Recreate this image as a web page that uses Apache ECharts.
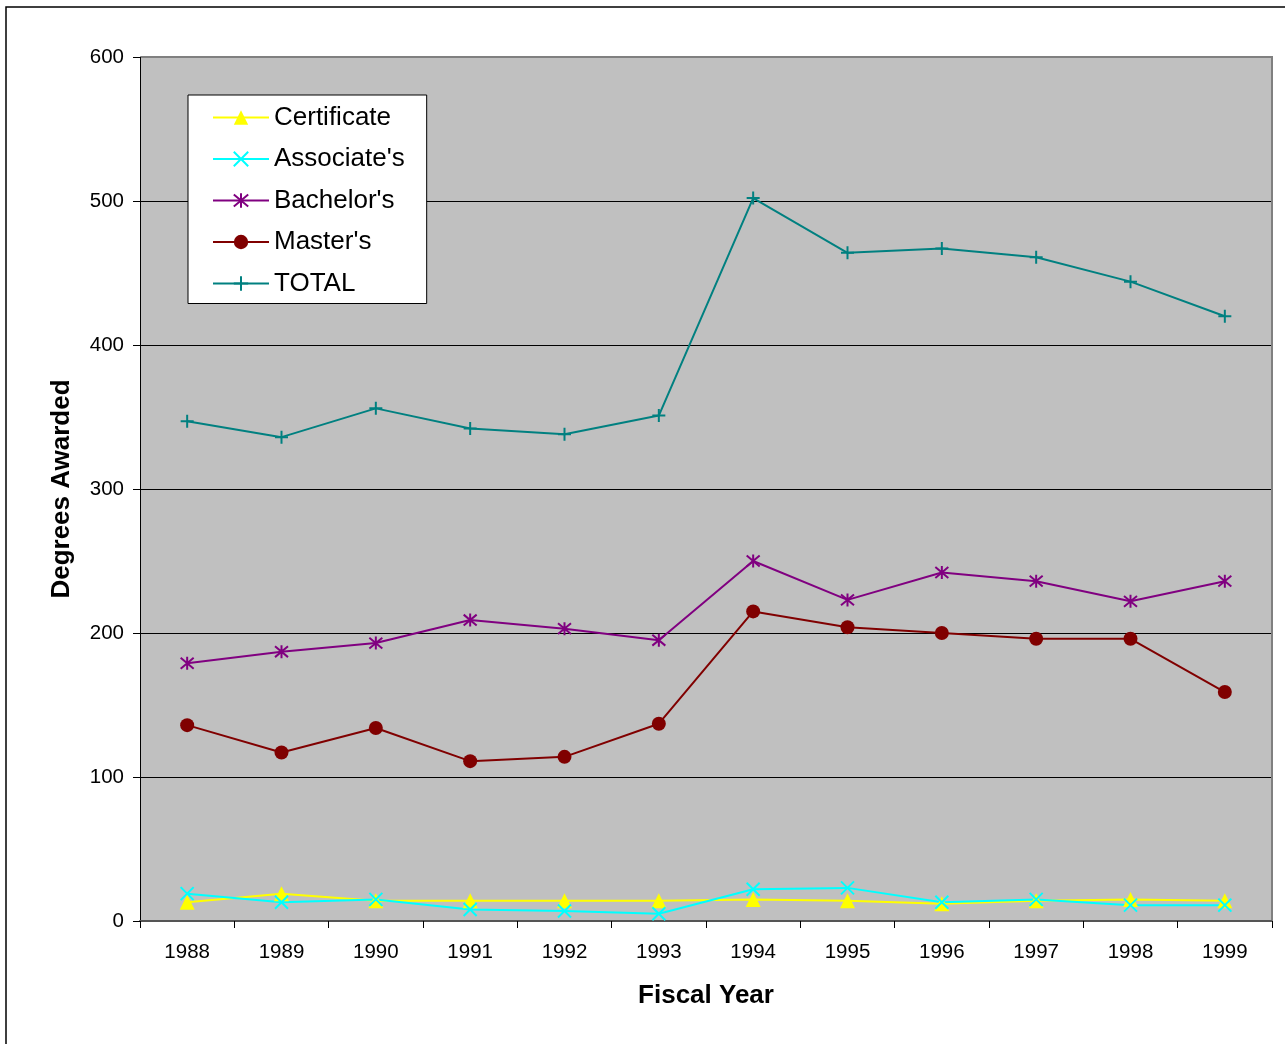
<!DOCTYPE html>
<html>
<head>
<meta charset="utf-8">
<script src="https://cdn.jsdelivr.net/npm/echarts@6/dist/echarts.min.js"></script>
<style>html,body{margin:0;padding:0;background:#fff}#c{width:1285px;height:1044px}</style>
</head>
<body>
<div id="c"></div>
<script>
var years = ['1988','1989','1990','1991','1992','1993','1994','1995','1996','1997','1998','1999'];
var certificate = [13, 19, 14, 14, 14, 14, 15, 14, 12, 14, 15, 14];
var associates  = [19, 13, 15, 8, 7, 5, 22, 23, 13, 15, 11, 11];
var bachelors   = [179, 187, 193, 209, 203, 195, 250, 223, 242, 236, 222, 236];
var masters     = [136, 117, 134, 111, 114, 137, 215, 204, 200, 196, 196, 159];
var total       = [347, 336, 356, 342, 338, 351, 502, 464, 467, 461, 444, 420];
var yTicks = [0, 100, 200, 300, 400, 500, 600];

var FONT = '"Liberation Sans", Arial, sans-serif';
var chart = echarts.init(document.getElementById('c'), null, {renderer: 'canvas'});

function mk(name, data, color, symbol, size, stroke) {
  return {
    name: name, type: 'line', data: data,
    symbol: symbol, symbolSize: size, showAllSymbol: true,
    lineStyle: {color: color, width: 2},
    itemStyle: stroke ? {color: color, borderColor: color, borderWidth: 2}
                      : {color: color, borderWidth: 0},
    emphasis: {disabled: true},
    animation: false
  };
}

var option = {
  animation: false,
  backgroundColor: '#fff',
  grid: {left: 140, top: 57, right: 13, bottom: 123, show: true, backgroundColor: '#C0C0C0', borderWidth: 0},
  legend: {
    orient: 'vertical', left: 188, top: 95,
    backgroundColor: '#fff', borderColor: '#000', borderWidth: 1,
    padding: [8.5, 22, 6, 24],
    itemWidth: 56, itemHeight: 18, itemGap: 13.5,
    lineStyle: {width: 2},
    textStyle: {fontFamily: FONT, fontSize: 26, color: '#000', lineHeight: 28},
    data: ['Certificate', "Associate's", "Bachelor's", "Master's", 'TOTAL']
  },
  xAxis: {
    type: 'category', data: years, boundaryGap: true,
    axisLine: {lineStyle: {color: '#555', width: 2}},
    axisTick: {show: true, length: 7, lineStyle: {color: '#000', width: 1}},
    axisLabel: {fontFamily: FONT, fontSize: 20.5, color: '#000', margin: 21},
    name: 'Fiscal Year', nameLocation: 'middle', nameGap: 62,
    nameTextStyle: {fontFamily: FONT, fontSize: 26, fontWeight: 'bold', color: '#000'}
  },
  yAxis: {
    type: 'value', min: yTicks[0], max: yTicks[yTicks.length - 1], interval: 100,
    axisLine: {show: true, lineStyle: {color: '#000', width: 1}},
    axisTick: {show: true, length: 7, lineStyle: {color: '#000'}},
    axisLabel: {fontFamily: FONT, fontSize: 20.5, color: '#000', margin: 16},
    splitLine: {show: true, lineStyle: {color: '#000', width: 1}},
    name: 'Degrees Awarded', nameLocation: 'middle', nameGap: 65, nameRotate: 90,
    nameTextStyle: {fontFamily: FONT, fontSize: 26, fontWeight: 'bold', color: '#000'}
  },
  graphic: [
    {type: 'rect', shape: {x: 6, y: 7, width: 1300, height: 1100},
     style: {fill: 'none', stroke: '#000', lineWidth: 1.5}, z: -10, silent: true},
    {type: 'polyline', shape: {points: [[141, 57], [1272, 57], [1272, 920]]},
     style: {stroke: '#808080', lineWidth: 2, fill: 'none'}, z: 5, silent: true}
  ],
  series: [
    mk('Certificate', certificate, '#FFFF00', 'triangle', 15, false),
    mk("Associate's", associates, '#00FFFF', 'path://M0,0L10,10M10,0L0,10', 13, true),
    mk("Bachelor's", bachelors, '#800080', 'path://M0,0L10,10M10,0L0,10M5,-1L5,11', 13, true),
    mk("Master's", masters, '#800000', 'circle', 14, false),
    mk('TOTAL', total, '#008080', 'path://M5,0L5,10M0,5L10,5', 13, true)
  ]
};
chart.setOption(option);
</script>
</body>
</html>
